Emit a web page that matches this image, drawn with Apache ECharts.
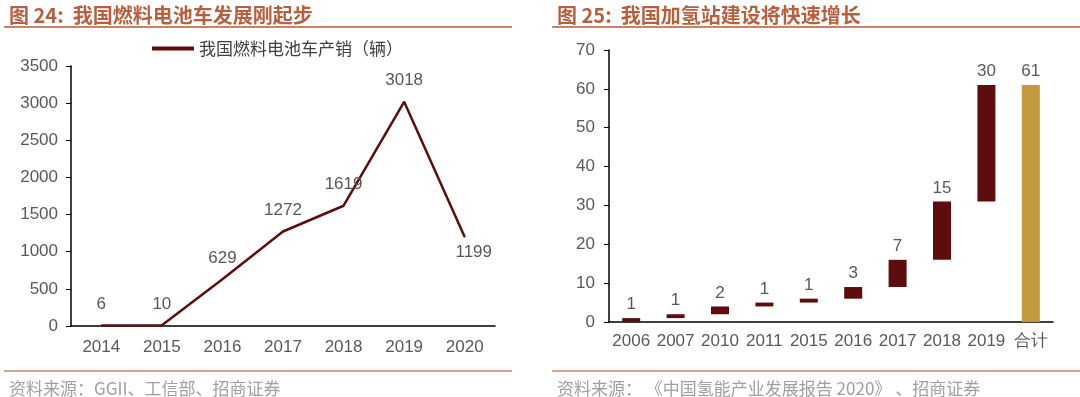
<!DOCTYPE html>
<html>
<head>
<meta charset="utf-8">
<script src="https://cdn.jsdelivr.net/npm/echarts@6/dist/echarts.min.js"></script>
<style>
  html, body { margin: 0; padding: 0; background: #fff; }
  #main { width: 1080px; height: 397px; }
</style>
</head>
<body>
<div id="main"></div>
<script>
// left: fuel cell vehicle output
var fcvYears = ['2014', '2015', '2016', '2017', '2018', '2019', '2020'];
var fcvSales = [6, 10, 629, 1272, 1619, 3018, 1199];

// right: hydrogen stations (waterfall)
var stationYears = ['2006', '2007', '2010', '2011', '2015', '2016', '2017', '2018', '2019', '合计'];
var stationAdded = [1, 1, 2, 1, 1, 3, 7, 15, 30, 61];
var stationBase = [0, 1, 2, 4, 5, 6, 9, 16, 31, 0];

var maroon = '#5e0d0d';
var gold = '#c39a3c';
var gray = '#595959';
var numFont = '"Liberation Sans", Arial, sans-serif';
var cjkFont = '"Noto Sans CJK SC", sans-serif';

function plain(v) {
    return String(v);
}

var chartDom = document.getElementById('main');
var myChart = echarts.init(chartDom);
var option;

option = {
    animation: false,
    title: [
        {
            text: '图 24:  我国燃料电池车发展刚起步',
            left: 4, top: 0,
            textStyle: { fontFamily: cjkFont, fontSize: 20, fontWeight: 'bold', color: '#b5603f' }
        },
        {
            text: '图 25:  我国加氢站建设将快速增长',
            left: 552, top: 0,
            textStyle: { fontFamily: cjkFont, fontSize: 20, fontWeight: 'bold', color: '#b5603f' }
        },
        {
            text: '资料来源：GGII、工信部、招商证券',
            left: 4, top: 375,
            textStyle: { fontFamily: cjkFont, fontSize: 17, fontWeight: 'normal', color: '#a0a0a0' }
        },
        {
            text: '资料来源： 《中国氢能产业发展报告 2020》 、招商证券',
            left: 552, top: 375,
            textStyle: { fontFamily: cjkFont, fontSize: 17, fontWeight: 'normal', color: '#a0a0a0' }
        }
    ],
    graphic: [
        { type: 'rect', shape: { x: 4, y: 26, width: 508, height: 2 }, style: { fill: '#c98468' } },
        { type: 'rect', shape: { x: 552, y: 26, width: 528, height: 2 }, style: { fill: '#c98468' } },
        { type: 'rect', shape: { x: 4, y: 370, width: 508, height: 2 }, style: { fill: '#d9a48e' } },
        { type: 'rect', shape: { x: 552, y: 370, width: 528, height: 2 }, style: { fill: '#d9a48e' } }
    ],
    legend: {
        data: ['我国燃料电池车产销（辆）'],
        left: 147, top: 35,
        icon: 'rect',
        itemWidth: 42, itemHeight: 4, itemGap: 4,
        textStyle: { fontFamily: cjkFont, fontSize: 17, color: '#404040' }
    },
    grid: [
        { left: 71, right: 585, top: 66, bottom: 71 },
        { left: 609, right: 27, top: 50, bottom: 75 }
    ],
    xAxis: [
        {
            type: 'category', gridIndex: 0, data: fcvYears,
            axisLine: { lineStyle: { color: '#000', width: 1.5 } },
            axisTick: { show: false },
            axisLabel: { fontFamily: numFont, fontSize: 17, color: gray, margin: 13 }
        },
        {
            type: 'category', gridIndex: 1, data: stationYears,
            axisLine: { lineStyle: { color: '#000', width: 1.5 } },
            axisTick: { show: false },
            axisLabel: { fontFamily: numFont, fontSize: 17, color: gray, margin: 11, interval: 0 }
        }
    ],
    yAxis: [
        {
            type: 'value', gridIndex: 0, min: 0, max: 3500, interval: 500,
            axisLine: { show: true, lineStyle: { color: '#000', width: 1.5 } },
            axisTick: { show: true, length: 5, lineStyle: { color: '#000' } },
            splitLine: { show: false },
            axisLabel: { fontFamily: numFont, fontSize: 17, color: gray, margin: 13, formatter: plain }
        },
        {
            type: 'value', gridIndex: 1, min: 0, max: 70, interval: 10,
            axisLine: { show: true, lineStyle: { color: '#000', width: 1.5 } },
            axisTick: { show: true, length: 5, lineStyle: { color: '#000' } },
            splitLine: { show: false },
            axisLabel: { fontFamily: numFont, fontSize: 17, color: gray, margin: 14, formatter: plain }
        }
    ],
    series: [
        {
            name: '我国燃料电池车产销（辆）',
            type: 'line', xAxisIndex: 0, yAxisIndex: 0,
            data: fcvSales.map(function (v, i) {
                var item = { value: v };
                if (i === fcvSales.length - 1) {
                    item.label = { position: 'bottom', distance: 6, offset: [9, 0] };
                }
                return item;
            }),
            symbol: 'circle',
            symbolSize: 1,
            showAllSymbol: true,
            itemStyle: { color: maroon },
            lineStyle: { color: maroon, width: 2.5 },
            label: {
                show: true, position: 'top', distance: 12,
                fontFamily: numFont, fontSize: 17, color: gray
            }
        },
        {
            name: 'base',
            type: 'bar', xAxisIndex: 1, yAxisIndex: 1, stack: 'wf',
            barWidth: 18,
            itemStyle: { color: 'transparent' },
            data: stationBase
        },
        {
            name: 'added',
            type: 'bar', xAxisIndex: 1, yAxisIndex: 1, stack: 'wf',
            barWidth: 18,
            data: stationAdded.map(function (v, i) {
                return {
                    value: v,
                    itemStyle: { color: i === stationAdded.length - 1 ? gold : maroon }
                };
            }),
            label: {
                show: true, position: 'top', distance: 5,
                fontFamily: numFont, fontSize: 17, color: gray
            }
        }
    ]
};

option && myChart.setOption(option);
</script>
</body>
</html>
